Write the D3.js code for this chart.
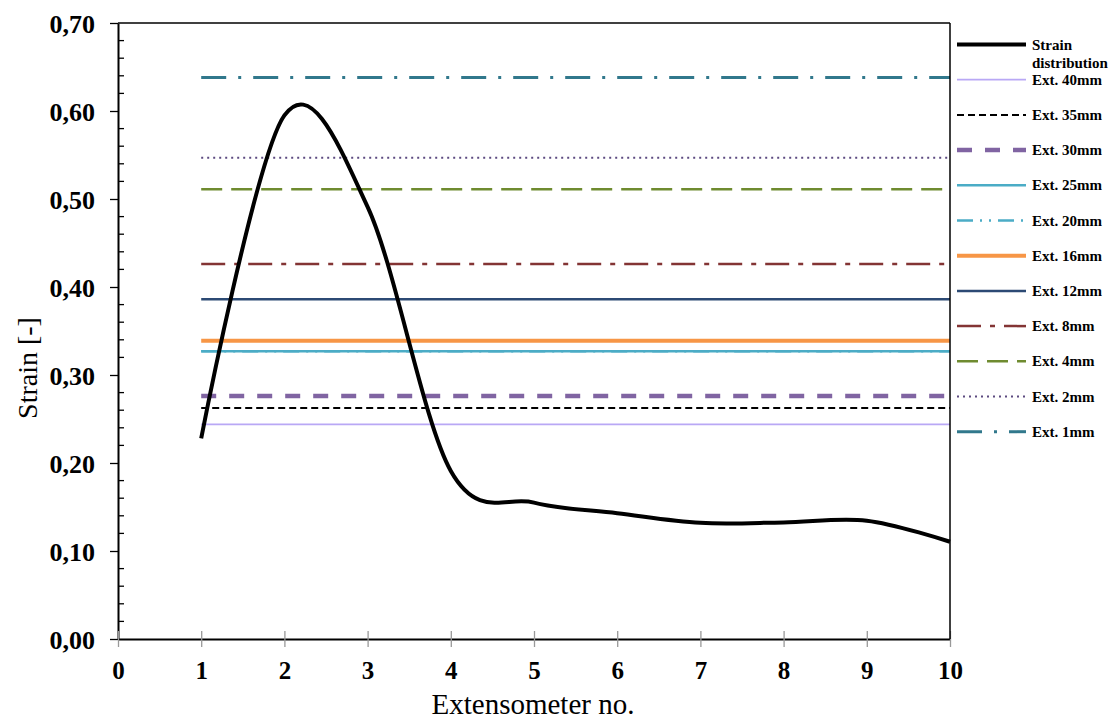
<!DOCTYPE html>
<html>
<head>
<meta charset="utf-8">
<script src="https://cdn.jsdelivr.net/npm/d3@7"></script>
<style>
    body { margin: 0; background: white; }
    text { font-family: "Liberation Serif", "Times New Roman", serif; }
</style>
</head>
<body>
<script>
/**
 * Data
 */
const extNo = [1, 2, 3, 4, 5, 6, 7, 8, 9, 10];
const strain = [0.228, 0.595, 0.491, 0.191, 0.155, 0.143, 0.132, 0.1325, 0.1345, 0.1105];

const extLabels = ["Ext. 40mm", "Ext. 35mm", "Ext. 30mm", "Ext. 25mm", "Ext. 20mm",
    "Ext. 16mm", "Ext. 12mm", "Ext. 8mm", "Ext. 4mm", "Ext. 2mm", "Ext. 1mm"];
const extValues = [0.244, 0.2625, 0.276, 0.327, 0.327, 0.339, 0.386, 0.426, 0.511, 0.547, 0.638];

const xTicks = [0, 1, 2, 3, 4, 5, 6, 7, 8, 9, 10];
const yTicks = [0, 0.1, 0.2, 0.3, 0.4, 0.5, 0.6, 0.7];

/**
 * Styles (one per extensometer, same order as extLabels)
 */
const extStyles = [
    { color: "#b9a8f5", width: 1.8, dash: null },
    { color: "#000000", width: 2, dash: "7,4" },
    { color: "#8064a2", width: 4.5, dash: "15,13" },
    { color: "#4bacc6", width: 2.5, dash: null },
    { color: "#4bacc6", width: 2.5, dash: "16,7,2,7,2,7" },
    { color: "#f79646", width: 4, dash: null },
    { color: "#2c4a74", width: 2.5, dash: null },
    { color: "#833434", width: 2.5, dash: "24,9,5,9" },
    { color: "#6f8b30", width: 2.5, dash: "21,9" },
    { color: "#5c4a80", width: 2, dash: "2,4" },
    { color: "#31788c", width: 3, dash: "25,12,3,12" }
];

const WIDTH = 1111;
const HEIGHT = 722;

const PLOT_LEFT = 118;
const PLOT_RIGHT = 950;
const PLOT_TOP = 23;
const PLOT_BOTTOM = 639;

const svg = d3.select("body")
    .append("svg")
    .attr("width", WIDTH)
    .attr("height", HEIGHT);

const x = d3.scaleLinear().domain([0, 10]).range([PLOT_LEFT, PLOT_RIGHT]);
const y = d3.scaleLinear().domain([0, 0.7]).range([PLOT_BOTTOM, PLOT_TOP]);

const fmt = v => d3.format(".2f")(v).replace(".", ",");

function drawAxes() {
    // minor ticks inside, every 0.02
    const minor = d3.range(0, 0.7001, 0.02).filter(v => Math.abs(v * 10 - Math.round(v * 10)) > 1e-6);
    svg.append("g")
        .selectAll("line")
        .data(minor)
        .join("line")
        .attr("x1", PLOT_LEFT)
        .attr("x2", PLOT_LEFT + 6)
        .attr("y1", d => y(d))
        .attr("y2", d => y(d))
        .attr("stroke", "black")
        .attr("stroke-width", 1.3);

    // y axis
    const yAxis = svg.append("g")
        .attr("transform", `translate(${PLOT_LEFT},0)`)
        .call(d3.axisLeft(y).tickValues(yTicks).tickFormat(fmt).tickSize(8).tickSizeOuter(0));
    yAxis.select(".domain").attr("stroke-width", 2);
    yAxis.selectAll(".tick line").attr("stroke-width", 1.3);
    yAxis.selectAll(".tick text")
        .attr("x", -23)
        .attr("dy", "0.36em")
        .attr("font-size", 26)
        .attr("font-weight", "bold")
        .attr("font-family", "Liberation Serif, serif")
        .attr("fill", "black");

    // x axis
    const xAxis = svg.append("g")
        .attr("transform", `translate(0,${PLOT_BOTTOM})`)
        .call(d3.axisBottom(x).tickValues(xTicks).tickSize(8).tickSizeOuter(0));
    xAxis.select(".domain").attr("stroke-width", 2);
    xAxis.selectAll(".tick line")
        .attr("y1", -8)
        .attr("y2", 8)
        .attr("stroke", "#999")
        .attr("stroke-width", 1.3);
    xAxis.selectAll(".tick text")
        .attr("y", 40)
        .attr("dy", 0)
        .attr("font-size", 25)
        .attr("font-weight", "bold")
        .attr("font-family", "Liberation Serif, serif")
        .attr("fill", "black");

    // frame top / right
    svg.append("line")
        .attr("x1", PLOT_LEFT).attr("x2", PLOT_RIGHT)
        .attr("y1", PLOT_TOP).attr("y2", PLOT_TOP)
        .attr("stroke", "black").attr("stroke-width", 1.5);
    svg.append("line")
        .attr("x1", PLOT_RIGHT).attr("x2", PLOT_RIGHT)
        .attr("y1", PLOT_TOP).attr("y2", PLOT_BOTTOM)
        .attr("stroke", "black").attr("stroke-width", 1.5);

    // titles
    svg.append("text")
        .attr("x", 533)
        .attr("y", 714)
        .attr("text-anchor", "middle")
        .attr("font-size", 29)
        .text("Extensometer no.");

    svg.append("text")
        .attr("transform", "translate(37,368) rotate(-90)")
        .attr("text-anchor", "middle")
        .attr("font-size", 28)
        .text("Strain [-]");
}

function drawLines() {
    const extData = extLabels.map((label, i) => ({ label, value: extValues[i], style: extStyles[i] }));

    svg.append("g")
        .selectAll("line")
        .data(extData)
        .join("line")
        .attr("x1", x(extNo[0]))
        .attr("x2", x(extNo[extNo.length - 1]))
        .attr("y1", d => y(d.value))
        .attr("y2", d => y(d.value))
        .attr("stroke", d => d.style.color)
        .attr("stroke-width", d => d.style.width)
        .attr("stroke-dasharray", d => d.style.dash);

    const line = d3.line()
        .x((d, i) => x(extNo[i]))
        .y(d => y(d))
        .curve(d3.curveCardinal.tension(0));

    svg.append("path")
        .datum(strain)
        .attr("d", line)
        .attr("fill", "none")
        .attr("stroke", "black")
        .attr("stroke-width", 4);
}

function drawLegend() {
    const LX1 = 957, LX2 = 1026, TX = 1032;
    const ROW0 = 44.5, STEP = 35.2;
    const g = svg.append("g").attr("font-size", 15).attr("font-weight", "bold");

    g.append("line")
        .attr("x1", LX1).attr("x2", LX2)
        .attr("y1", ROW0).attr("y2", ROW0)
        .attr("stroke", "black").attr("stroke-width", 4);
    g.append("text").attr("x", TX).attr("y", ROW0 + 5).text("Strain");
    g.append("text").attr("x", TX).attr("y", ROW0 + 23).text("distribution");

    extLabels.forEach((label, i) => {
        const yy = ROW0 + STEP * (i + 1);
        const st = extStyles[i];
        g.append("line")
            .attr("x1", LX1).attr("x2", LX2)
            .attr("y1", yy).attr("y2", yy)
            .attr("stroke", st.color)
            .attr("stroke-width", st.width)
            .attr("stroke-dasharray", st.dash);
        g.append("text")
            .attr("x", TX)
            .attr("y", yy + 5)
            .text(label);
    });
}

drawLines();
drawAxes();
drawLegend();
</script>
</body>
</html>
